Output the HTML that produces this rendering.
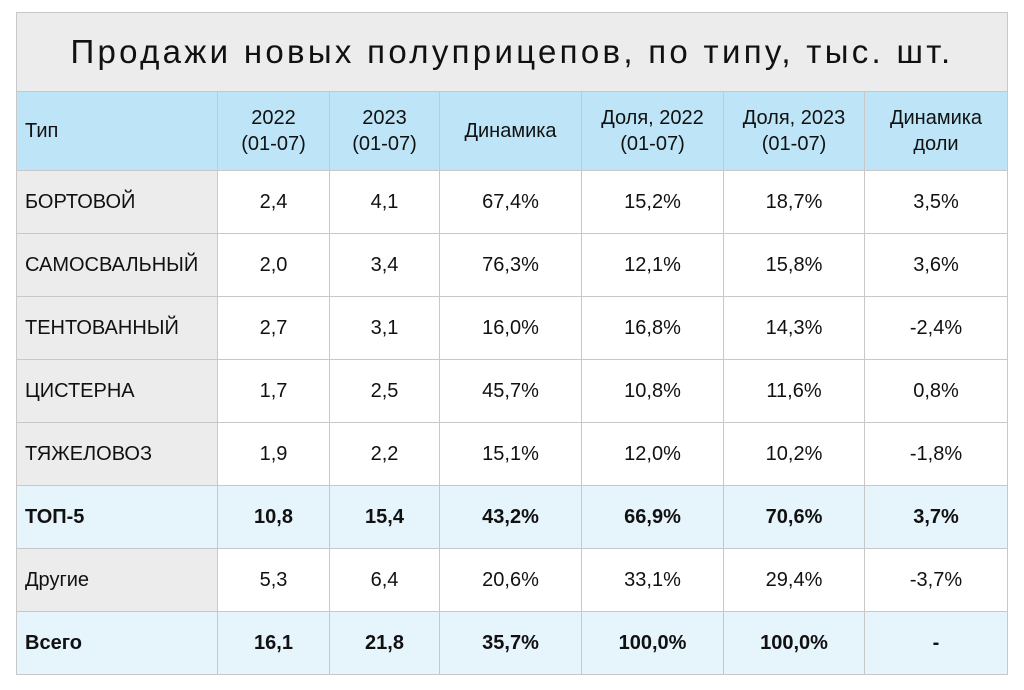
<!DOCTYPE html>
<html><head><meta charset="utf-8"><style>
body{margin:0;width:1024px;height:690px;background:#fff;font-family:"Liberation Sans","DejaVu Sans",sans-serif;color:#111;}
table{position:absolute;left:16px;top:12px;border-collapse:collapse;table-layout:fixed;}
td{border:1px solid #c8c8c8;text-align:center;font-size:20px;padding:0;}
td.l{text-align:left;padding-left:8px;background:#ececec;}
tr.title td{background:#ececec;height:78px;font-size:33px;letter-spacing:3.3px;}
tr.head td{background:#bde4f7;height:78px;line-height:26px;}
tr.body td{height:62px;}
tr.hl td{background:#e6f4fc;font-weight:bold;}
</style></head><body>
<table>
<colgroup><col style="width:201px"><col style="width:112px"><col style="width:110px"><col style="width:142px"><col style="width:142px"><col style="width:141px"><col style="width:143px"></colgroup>
<tr class="title"><td colspan="7">Продажи новых полуприцепов, по типу, тыс. шт.</td></tr>
<tr class="head"><td class="l" style="background:#bde4f7">Тип</td><td>2022<br>(01-07)</td><td>2023<br>(01-07)</td><td>Динамика</td><td>Доля, 2022<br>(01-07)</td><td>Доля, 2023<br>(01-07)</td><td>Динамика<br>доли</td></tr>
<tr class="body"><td class="l">БОРТОВОЙ</td><td>2,4</td><td>4,1</td><td>67,4%</td><td>15,2%</td><td>18,7%</td><td>3,5%</td></tr>
<tr class="body"><td class="l">САМОСВАЛЬНЫЙ</td><td>2,0</td><td>3,4</td><td>76,3%</td><td>12,1%</td><td>15,8%</td><td>3,6%</td></tr>
<tr class="body"><td class="l">ТЕНТОВАННЫЙ</td><td>2,7</td><td>3,1</td><td>16,0%</td><td>16,8%</td><td>14,3%</td><td>-2,4%</td></tr>
<tr class="body"><td class="l">ЦИСТЕРНА</td><td>1,7</td><td>2,5</td><td>45,7%</td><td>10,8%</td><td>11,6%</td><td>0,8%</td></tr>
<tr class="body"><td class="l">ТЯЖЕЛОВОЗ</td><td>1,9</td><td>2,2</td><td>15,1%</td><td>12,0%</td><td>10,2%</td><td>-1,8%</td></tr>
<tr class="body hl"><td class="l" style="background:#e6f4fc">ТОП-5</td><td>10,8</td><td>15,4</td><td>43,2%</td><td>66,9%</td><td>70,6%</td><td>3,7%</td></tr>
<tr class="body"><td class="l">Другие</td><td>5,3</td><td>6,4</td><td>20,6%</td><td>33,1%</td><td>29,4%</td><td>-3,7%</td></tr>
<tr class="body hl"><td class="l" style="background:#e6f4fc">Всего</td><td>16,1</td><td>21,8</td><td>35,7%</td><td>100,0%</td><td>100,0%</td><td>-</td></tr>
</table>
</body></html>
